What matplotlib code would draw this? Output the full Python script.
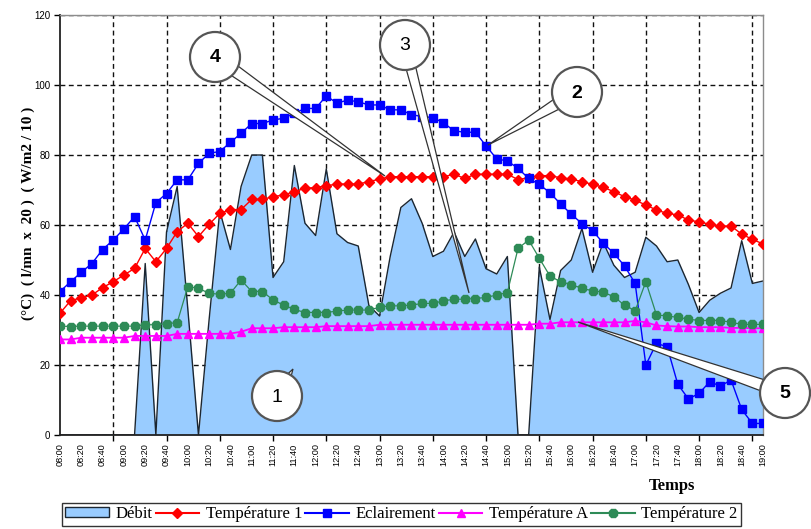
import matplotlib
matplotlib.use("Agg")
import matplotlib.pyplot as plt
import numpy as np
from matplotlib.patches import Circle, Polygon, Patch
from matplotlib.lines import Line2D

# ---------------- data (10-minute steps, 08:00 -> 19:00) ----------------
debit = [0, 0, 0, 0, 0, 0, 0, 0, 49, 0, 58, 71, 36, 0, 33, 64, 53, 71, 80, 80,
         45, 49.5, 77, 60.5, 57, 76, 57.5, 55, 54, 37, 34, 51, 65, 67.5, 60.5, 51,
         52.5, 58, 51, 56, 47.5, 46, 51, 0, 0, 48, 33, 47, 50, 59, 46.5, 55, 48.5,
         45, 46.5, 56.5, 54, 49.5, 50, 43, 35, 38.5, 40.5, 42, 55.5, 43.3, 44]

temperature1 = [34.8, 38.4, 39.2, 40, 42.1, 43.8, 45.7, 47.6, 53.3, 49.5, 53.3, 58.1,
                60.5, 56.7, 60.2, 63.3, 64.4, 64.4, 67.3, 67.3, 68.1, 68.6, 69.5, 70.5,
                70.7, 71.2, 71.7, 71.7, 71.7, 72.4, 73.1, 73.8, 73.8, 73.8, 73.8, 73.8,
                73.8, 74.5, 73.3, 74.5, 74.5, 74.5, 74.5, 73, 73.5, 74.1, 74.1, 73.5,
                73.1, 72.4, 71.6, 70.8, 69.5, 68.1, 67.1, 65.7, 64.3, 63.3, 62.9, 61.4,
                60.9, 60.2, 59.7, 59.7, 57.4, 55.9, 54.6]

eclairement = [41, 43.8, 46.5, 49, 53, 55.7, 58.9, 62.4, 55.7, 66.4, 69, 72.9, 72.9,
               77.6, 80.5, 81, 83.6, 86.2, 89, 89, 90, 90.5, 91.9, 93.3, 93.3, 96.9,
               94.8, 95.7, 95.2, 94.3, 94.3, 92.9, 92.9, 91.5, 91, 90.7, 89.2, 86.9,
               86.5, 86.5, 82.6, 78.9, 78.3, 76.2, 73.3, 71.6, 69.2, 66, 63.1, 60.4,
               58.4, 54.8, 51.9, 48.3, 43.3, 20, 26.2, 25.2, 14.5, 10.3, 11.9, 15.2,
               14, 15.7, 7.3, 3.3, 3.3]

temperatureA = [27.3, 27.3, 27.8, 27.8, 27.8, 27.8, 27.8, 28.3, 28.3, 28.3, 28.3, 28.9,
                28.9, 28.9, 28.9, 28.9, 29, 29.5, 30.5, 30.5, 30.5, 30.8, 30.8, 30.8,
                30.8, 31.1, 31.1, 31.1, 31.1, 31.1, 31.5, 31.5, 31.5, 31.5, 31.5, 31.5,
                31.5, 31.5, 31.5, 31.5, 31.5, 31.5, 31.5, 31.5, 31.5, 31.8, 31.8, 32.2,
                32.2, 32.2, 32.2, 32.2, 32.2, 32.2, 32.6, 32.2, 31.3, 31.1, 31, 31,
                30.8, 30.8, 30.8, 30.6, 30.6, 30.5, 30.5]

temperature2 = [31.1, 31.0, 31.1, 31.1, 31.1, 31.1, 31.1, 31.1, 31.5, 31.5, 31.8, 32.1,
                42.4, 41.9, 40.5, 40.2, 40.5, 44.3, 41, 41, 38.6, 37.1, 35.9, 35, 35,
                35, 35.4, 35.7, 35.7, 35.7, 36.5, 36.9, 36.9, 37.1, 37.6, 37.6, 38.3,
                38.8, 38.8, 39, 39.3, 40, 40.7, 53.3, 55.7, 50.5, 45.4, 43.8, 43, 41.9,
                41.2, 40.8, 39.5, 37.1, 35.5, 43.8, 34.3, 34, 33.6, 33.1, 32.7, 32.7,
                32.7, 32.2, 31.6, 31.6, 31.6]

times = [f"{8 + (10 * k) // 60:02d}:{(10 * k) % 60:02d}" for k in range(len(debit))]
yticks = [0, 20, 40, 60, 80, 100, 120]

# ---------------- figure ----------------
W, H = 812, 529
fig = plt.figure(figsize=(W / 100, H / 100), dpi=100)
fig.patch.set_facecolor("white")
ax = fig.add_axes([60 / W, 1 - 435 / H, 703 / W, 420 / H])

x = np.arange(len(debit))

ax.fill_between(x, debit, 0, color="#99CCFF", zorder=2, linewidth=0)
ax.plot(x, debit, color="#1b2631", lw=1.0, zorder=2.5)

ax.plot(x, temperature1, color="#FF0000", lw=1.0, marker="D", ms=4.6,
        mec="#FF0000", zorder=4)
ax.plot(x, eclairement, color="#0000FF", lw=1.0, marker="s", ms=6.3,
        mec="#0000FF", zorder=4)
ax.plot(x, temperatureA, color="#FF00FF", lw=1.3, marker="^", ms=5.5,
        mec="#FF00FF", zorder=4)
ax.plot(x, temperature2, color="#2E8B57", lw=0.9, marker="8", ms=6.5,
        mec="#2E8B57", mfc="#2E8B57", zorder=4)

ax.set_xlim(0, len(debit) - 1)
ax.set_ylim(0, 120)
ax.set_yticks(yticks)
ax.set_yticklabels([str(v) for v in yticks], fontsize=7, family="Liberation Sans")

# labels every 20 minutes, tick marks / vertical grid every 50 minutes
ax.set_xticks(x[::2])
ax.set_xticklabels(times[::2], rotation=90, fontsize=6.6, family="Liberation Sans")
ax.set_xticks(x[5::5], minor=True)
ax.xaxis.remove_overlapping_locs = False
ax.tick_params(axis="x", which="major", length=0, pad=6)
ax.tick_params(axis="x", which="minor", length=4, width=1, direction="out")
ax.tick_params(axis="y", length=4, width=1, direction="out", pad=3)

ax.set_axisbelow(True)
ax.grid(axis="y", which="major", color="#111111", linestyle=(0, (3.5, 2.5)), lw=1.0)
ax.grid(axis="x", which="minor", color="#111111", linestyle=(0, (3.5, 2.5)), lw=1.0)

for s in ["left", "bottom"]:
    ax.spines[s].set_color("#222222")
    ax.spines[s].set_linewidth(1.3)
for s in ["top", "right"]:
    ax.spines[s].set_color("#8c8c8c")
    ax.spines[s].set_linewidth(1.0)

fig.text(28 / W, 1 - 213 / H, "(°C)  ( l/mn  x  20 )  ( W/m2 / 10 )", rotation=90,
         ha="center", va="center", fontsize=11, fontweight="bold",
         family="Liberation Serif")
fig.text(672 / W, 1 - 486 / H, "Temps", ha="center", va="center", fontsize=12,
         fontweight="bold", family="Liberation Serif")

# ---------------- legend ----------------
handles = [
    Patch(facecolor="#99CCFF", edgecolor="#1b2631", lw=1.0, label="Débit"),
    Line2D([], [], color="#FF0000", marker="D", ms=4.6, label="Température 1"),
    Line2D([], [], color="#0000FF", marker="s", ms=6, label="Eclairement"),
    Line2D([], [], color="#FF00FF", marker="^", ms=5.5, label="Température A"),
    Line2D([], [], color="#2E8B57", marker="8", ms=6.5, label="Température 2"),
]
leg = fig.legend(handles=handles, loc="upper left", ncol=5,
                 bbox_to_anchor=(62 / W, 1 - 503 / H), frameon=True, fancybox=False,
                 prop={"family": "Liberation Serif", "size": 12},
                 handlelength=2.6, handleheight=0.55, handletextpad=0.4,
                 columnspacing=0.2, borderpad=0.2, borderaxespad=0, numpoints=1)
leg.get_frame().set_edgecolor("black")
leg.get_frame().set_linewidth(1.0)

# ---------------- callouts (pixel overlay) ----------------
ov = fig.add_axes([0, 0, 1, 1], zorder=10)
ov.set_xlim(0, W)
ov.set_ylim(H, 0)
ov.axis("off")
ov.patch.set_alpha(0)

callouts = [
    ("4", (215, 57), (385, 176), "bold", 6),
    ("3", (405, 45), (469, 293), "normal", 5),
    ("2", (577, 92), (488, 145), "bold", 6),
    ("5", (785, 393), (578, 322), "bold", 6),
    ("1", (277, 396), (293, 369), "normal", 4),
]
r = 25
for txt, (cx, cy), (tx, ty), wgt, hw in callouts:
    d = np.array([tx - cx, ty - cy], float)
    d /= np.linalg.norm(d)
    p = np.array([-d[1], d[0]])
    base = np.array([cx, cy]) + d * (r * 0.7)
    poly = Polygon([base + p * hw, (tx, ty), base - p * hw], closed=True,
                   facecolor="white", edgecolor="#333333", lw=0.9, zorder=1)
    ov.add_patch(poly)
    ov.add_patch(Circle((cx, cy), r, facecolor="white", edgecolor="#555555",
                        lw=1.6, zorder=2))
    ov.text(cx, cy + 1, txt, ha="center", va="center", fontsize=14, fontweight=wgt,
            family="Liberation Sans", zorder=3)

fig.savefig("out.png", dpi=100)
